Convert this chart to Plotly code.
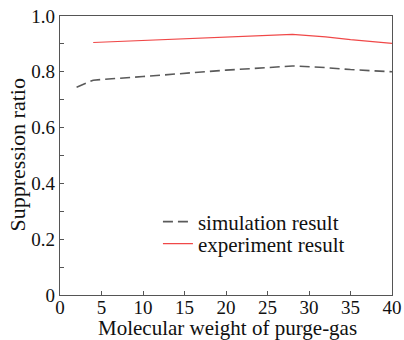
import plotly.graph_objects as go

sim_x = [2, 4, 10, 15, 20, 25, 28, 32, 35, 40]
sim_y = [0.745, 0.770, 0.783, 0.795, 0.806, 0.815, 0.821, 0.815, 0.808, 0.800]
exp_x = [4, 10, 15, 20, 25, 28, 32, 35, 40]
exp_y = [0.905, 0.912, 0.918, 0.924, 0.930, 0.934, 0.925, 0.915, 0.902]
y_ticks = [0, 0.2, 0.4, 0.6, 0.8, 1.0]
y_labels = ["0", "0.2", "0.4", "0.6", "0.8", "1.0"]
x_title = "Molecular weight of purge-gas"
y_title = "Suppression ratio"

FONT = "Liberation Serif"
TXT = "#111111"
fig = go.Figure()
fig.add_trace(go.Scatter(x=sim_x, y=sim_y, mode="lines", name="simulation result",
                         line=dict(color="#5a5a5a", width=1.6, dash="10px,5px"),
                         legend="legend"))
fig.add_trace(go.Scatter(x=exp_x, y=exp_y, mode="lines", name="experiment result",
                         line=dict(color="#f04848", width=1.2),
                         legend="legend2"))

leg_common = dict(xanchor="left", yanchor="middle", bgcolor="rgba(0,0,0,0)",
                  font=dict(family=FONT, size=21, color=TXT), itemwidth=30)
fig.update_layout(
    width=404, height=340,
    margin=dict(l=60, r=12, t=16, b=45, autoexpand=False),
    paper_bgcolor="white", plot_bgcolor="white",
    font=dict(family=FONT, color=TXT, size=20),
    legend=dict(x=0.295, y=(295 - 222) / 279, **leg_common),
    legend2=dict(x=0.295, y=(295 - 244) / 279, **leg_common),
    showlegend=True,
)
fig.add_annotation(text=x_title, xref="paper", yref="paper", x=0.506,
                   y=(295 - 328) / 279,
                   xanchor="center", yanchor="middle", showarrow=False,
                   font=dict(family=FONT, size=21, color=TXT))
fig.add_annotation(text=y_title, xref="paper", yref="paper", x=(17 - 60) / 332, y=0.5,
                   xanchor="center", yanchor="middle", showarrow=False, textangle=-90,
                   font=dict(family=FONT, size=22, color=TXT))
fig.update_xaxes(range=[0, 40], dtick=5, ticks="inside", ticklen=4, tickcolor="#555",
                 showline=True, linecolor="#555", linewidth=1.2, mirror=True,
                 showgrid=False, zeroline=False, automargin=False,
                 ticklabelstandoff=-5,
                 tickfont=dict(family=FONT, size=19, color=TXT))
fig.update_yaxes(range=[0, 1.0], tickvals=y_ticks, ticktext=y_labels,
                 ticks="inside", ticklen=4, tickcolor="#555",
                 minor=dict(dtick=0.1, ticks="inside", ticklen=4, tickcolor="#555"),
                 showline=True, linecolor="#555", linewidth=1.2, mirror=True,
                 showgrid=False, zeroline=False, automargin=False,
                 tickfont=dict(family=FONT, size=19, color=TXT))
fig.write_html("out.html")
